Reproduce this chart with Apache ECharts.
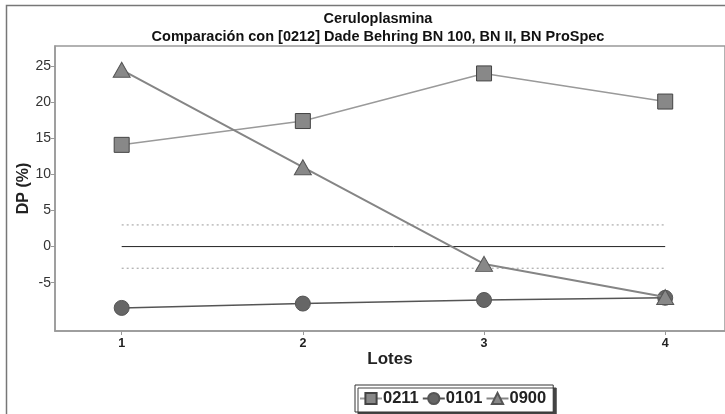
<!DOCTYPE html>
<html><head><meta charset="utf-8">
<script src="https://cdn.jsdelivr.net/npm/echarts@6/dist/echarts.min.js"></script>
<style>html,body{margin:0;padding:0;background:#fff}#c{width:725px;height:414px}</style>
</head><body><div id="c"></div>
<script>
const lotes = [1, 2, 3, 4];
const s0211 = [14.1, 17.4, 24.0, 20.1];
const s0101 = [-8.5, -7.9, -7.4, -7.1];
const s0900 = [24.5, 11.0, -2.4, -7.0];
const yTicks = [-5, 0, 5, 10, 15, 20, 25];
const limitUpper = 3, limitLower = -3, centerLine = 0;

const F = '"Liberation Sans", Arial, sans-serif';
const chart = echarts.init(document.getElementById('c'));
const pts = arr => lotes.map((x, i) => [x, arr[i]]);
const hline = v => [[lotes[0], v], [lotes[lotes.length - 1], v]];

chart.setOption({
  animation: false,
  title: [
    { text: 'Ceruloplasmina', left: 373, top: 6, textAlign: 'center',
      textStyle: { fontFamily: F, fontSize: 14.5, fontWeight: 'bold', color: '#111' } },
    { text: 'Comparación con [0212] Dade Behring BN 100, BN II, BN ProSpec', left: 373, top: 24, textAlign: 'center',
      textStyle: { fontFamily: F, fontSize: 14.5, fontWeight: 'bold', color: '#111' } }
  ],
  graphic: [
    { type: 'rect', shape: { x: 6.5, y: 5.5, width: 800, height: 500 }, style: { fill: 'none', stroke: '#777', lineWidth: 1.5 }, z: -10 }
  ],
  grid: { left: 55, top: 46, right: 0, bottom: 83, show: true, borderColor: '#999', borderWidth: 1.5, backgroundColor: 'transparent' },
  xAxis: {
    type: 'value', min: 0.632, max: 4.33, name: 'Lotes', nameLocation: 'middle', nameGap: 20, nameMoveOverlap: false,
    nameTextStyle: { fontFamily: F, fontSize: 17, fontWeight: 'bold', color: '#222' },
    axisLine: { show: true, onZero: false, lineStyle: { color: '#999', width: 1.5 } },
    axisTick: { show: true, length: 4, customValues: lotes, lineStyle: { color: '#999' } },
    axisLabel: { customValues: lotes, fontFamily: F, fontSize: 12.5, fontWeight: 'bold', color: '#222', margin: 6 },
    splitLine: { show: false }
  },
  yAxis: {
    type: 'value', min: -11.7, max: 27.8, name: 'DP (%)', nameLocation: 'middle', nameGap: 23, nameMoveOverlap: false,
    nameTextStyle: { fontFamily: F, fontSize: 16, fontWeight: 'bold', color: '#222' },
    axisLine: { show: true, onZero: false, lineStyle: { color: '#999', width: 1.5 } },
    axisTick: { show: true, length: 4, customValues: yTicks, lineStyle: { color: '#999' } },
    axisLabel: { customValues: yTicks, fontFamily: F, fontSize: 14, color: '#333', margin: 4 },
    splitLine: { show: false }
  },
  legend: {
    data: ['0211', '0101', '0900'], left: 355, top: 385, itemGap: 3, itemWidth: 22, itemHeight: 14,
    padding: [5, 7, 5, 4], borderColor: '#333', borderWidth: 1, backgroundColor: '#fff',
    shadowColor: '#444', shadowBlur: 0, shadowOffsetX: 3, shadowOffsetY: 3,
    textStyle: { fontFamily: F, fontSize: 16.5, fontWeight: 'bold', color: '#222', padding: [0, 0, 0, -4] }
  },
  series: [
    { type: 'line', silent: true, symbol: 'none', data: hline(limitUpper), lineStyle: { color: '#999', width: 1, type: [2, 3] }, z: 1 },
    { type: 'line', silent: true, symbol: 'none', data: hline(limitLower), lineStyle: { color: '#999', width: 1, type: [2, 3] }, z: 1 },
    { type: 'line', silent: true, symbol: 'none', data: hline(centerLine), lineStyle: { color: '#222', width: 1 }, z: 1 },
    { name: '0211', type: 'line', data: pts(s0211), symbol: 'rect', symbolSize: 15,
      lineStyle: { color: '#9a9a9a', width: 1.5 }, itemStyle: { color: '#888', borderColor: '#444', borderWidth: 1 }, z: 3 },
    { name: '0101', type: 'line', data: pts(s0101), symbol: 'circle', symbolSize: 15,
      lineStyle: { color: '#555', width: 1.5 }, itemStyle: { color: '#666', borderColor: '#555', borderWidth: 1 }, z: 4 },
    { name: '0900', type: 'line', data: pts(s0900), symbol: 'triangle', symbolSize: [17, 15],
      lineStyle: { color: '#858585', width: 2 }, itemStyle: { color: '#888', borderColor: '#555', borderWidth: 1 }, z: 5 }
  ]
});
</script></body></html>
